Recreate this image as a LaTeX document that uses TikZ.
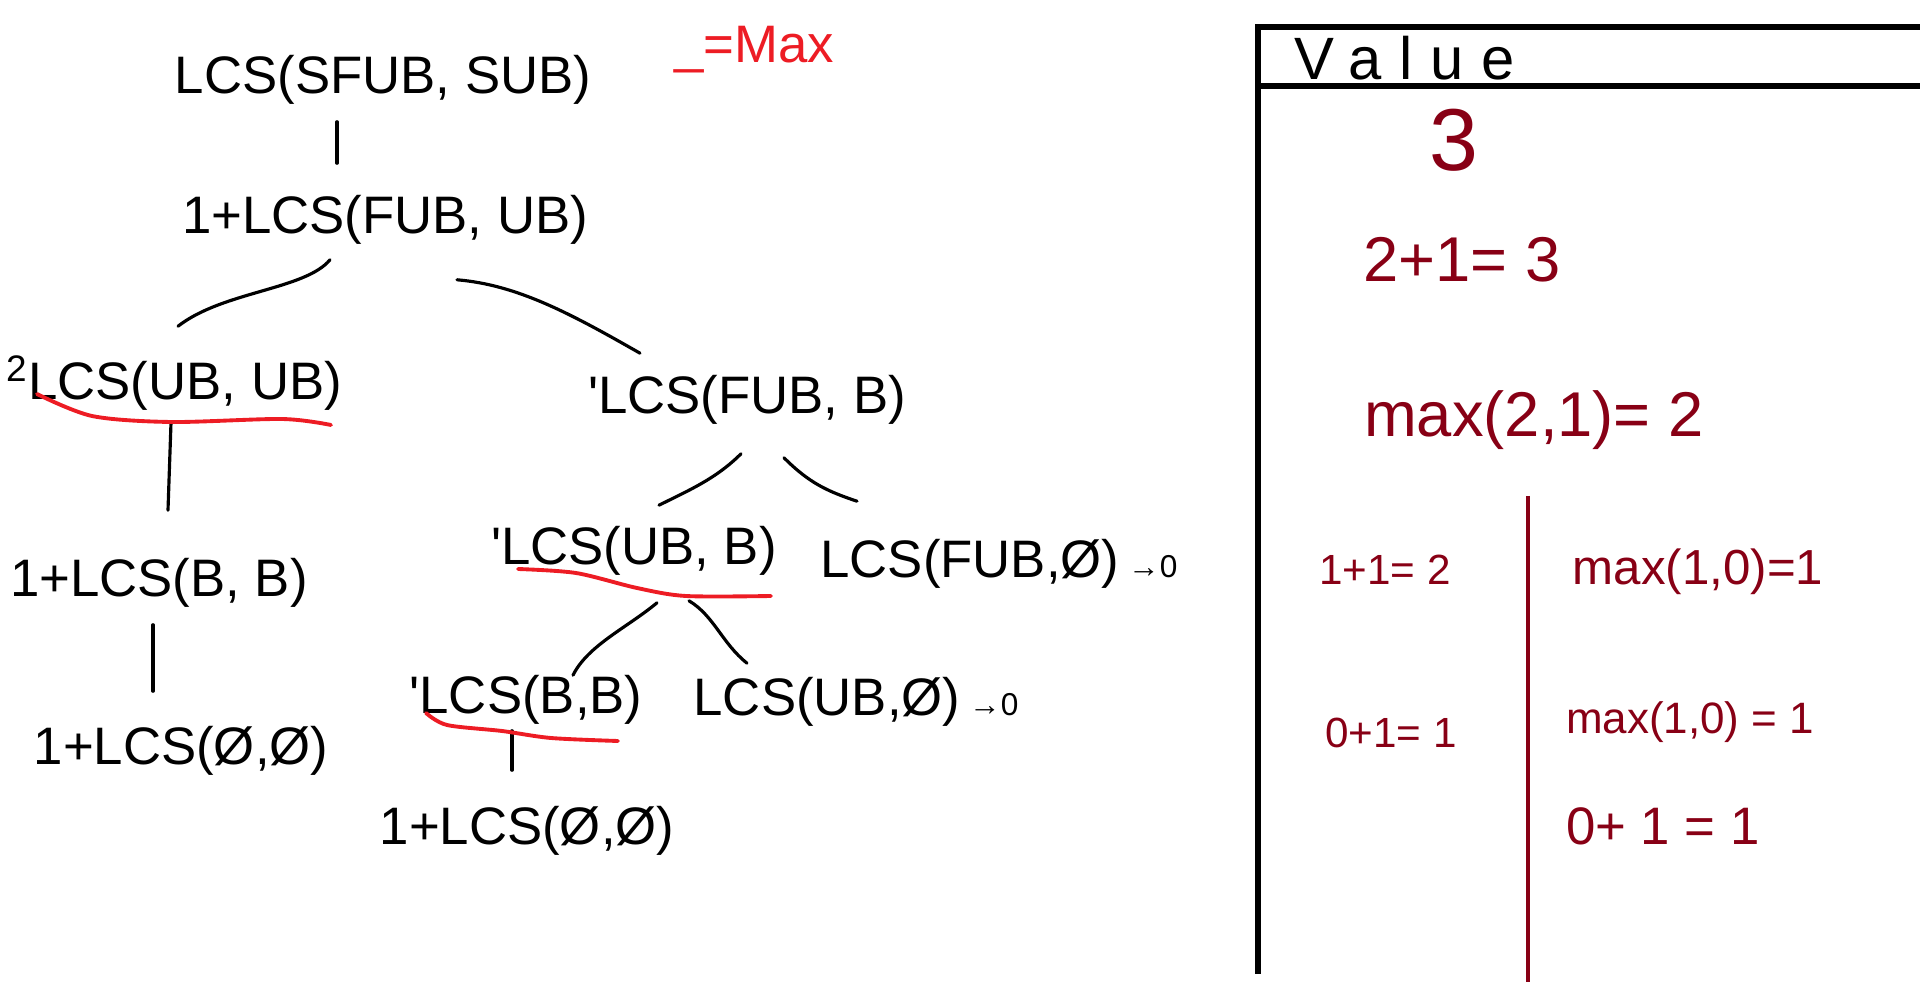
\documentclass[tikz,border=0pt]{standalone}
\usepackage{fontspec}
\setmainfont{Liberation Sans}
\newfontfamily\spaced[LetterSpace=30]{Liberation Sans}
\usetikzlibrary{calc}
\definecolor{penred}{HTML}{ED1C24}
\definecolor{valred}{HTML}{880015}
\tikzstyle{call}=[inner sep=1pt, font=\fontsize{15}{18}\selectfont]
\tikzstyle{val}=[inner sep=1pt, text=valred]
\tikzstyle{edge}=[draw, line width=0.9pt, line cap=round]
\tikzstyle{under}=[draw=penred, line width=1.1pt, line cap=round]
\tikzstyle{panel}=[draw, line width=1.5pt]
\tikzstyle{split}=[draw=valred, line width=1.2pt]
\newcommand{\call}[2]{node (c#1) [call] {#2}}
\newcommand{\val}[3]{node (v#1) [val, font=\fontsize{#2}{#2}\selectfont] {#3}}
\newcommand{\tick}{\textquotesingle}

\begin{document}
\begin{tikzpicture}[x=0.01cm, y=-0.01cm]
\useasboundingbox (0,0) rectangle (1920,994);

% Draw diagram elements
\path (383,80)         \call{1}{LCS(SFUB, SUB)};
\path (c1)+(2,140)     \call{2}{1+LCS(FUB, UB)};
\path (c2)+(-211,163)  \call{3}{\textsuperscript{2}LCS(UB, UB)};
\path (c2)+(362,180)   \call{4}{\tick LCS(FUB, B)};
\path (c3)+(-15,200)   \call{5}{1+LCS(B, B)};
\path (c5)+(22,168)    \call{6}{1+LCS(Ø,Ø)};
\path (c4)+(-113,151)  \call{7}{\tick LCS(UB, B)};
\path (c4)+(252,164)   \call{8}{LCS(FUB,Ø)\,{\small→0}};
\path (c7)+(-108,149)  \call{9}{\tick LCS(B,B)};
\path (c7)+(222,151)   \call{10}{LCS(UB,Ø)\,{\small→0}};
\path (c9)+(1,131)     \call{11}{1+LCS(Ø,Ø)};

% Legend
\path (754,50) node (key) [inner sep=1pt, text=penred,
  font=\fontsize{15}{15}\selectfont] {\_=Max};

% Value table
\path (1405,58) node (head) [inner sep=1pt,
  font=\spaced\fontsize{17}{17}\selectfont] {Value};
\path (1454,140) \val{1}{25}{3};
\path (1462,260) \val{2}{18}{2+1= 3};
\path (1534,420) \val{3}{18}{max(2,1)= 2};
\path (1385,570) \val{4}{12}{1+1= 2};
\path (1698,572) \val{5}{14}{max(1,0)=1};
\path (1391,733) \val{6}{12}{0+1= 1};
\path (1690,722) \val{7}{12.5}{max(1,0) = 1};
\path (1663,826) \val{8}{15}{0+ 1 = 1};

\path [panel] (1920,27) -- (1258,27) -- (1258,974);
\path [panel] (1258,86) -- (1920,86);
\path [split] (1528,496) -- (1528,982);

% Draw edges between calls
\path [edge] ($(c1.south)+(-46,13)$) -- ($(c2.north)+(-48,-28)$);
\path [edge] ($(c2.south)+(-55,11)$) .. controls +(-25,30) and +(45,-35)
  .. ($(c3.north)+(4,-25)$);
\path [edge] ($(c2.south)+(72,31)$) .. controls +(60,5) and +(-70,-40)
  .. ($(c4.north)+(-107,-18)$);
\path [edge] ($(c3.south)+(-3,8)$) -- ($(c5.north)+(9,-44)$);
\path [edge] ($(c5.south)+(-6,13)$) -- ($(c6.north)+(-28,-31)$);
\path [edge] ($(c4.south)+(-6,25)$) .. controls +(-25,25) and +(30,-15)
  .. ($(c7.north)+(25,-17)$);
\path [edge] ($(c4.south)+(37,29)$) .. controls +(25,25) and +(-30,-10)
  .. ($(c8.north)+(-142,-34)$);
\path [edge] ($(c7.south)+(23,23)$) .. controls +(-30,25) and +(15,-30)
  .. ($(c9.north)+(47,4)$);
\path [edge] ($(c7.south)+(55,21)$) .. controls +(25,15) and +(-25,-20)
  .. ($(c10.north)+(-109,-10)$);
\path [edge] ($(c9.south)+(-14,2)$) -- ($(c11.north)+(-15,-32)$);

% Underlined maxima
\path [under] plot[smooth] coordinates
  {(37,394) (92,416) (171,422) (282,419) (331,425)};
\path [under] plot[smooth] coordinates
  {(518,569) (576,573) (637,588) (686,596) (771,596)};
\path [under] plot[smooth] coordinates
  {(426,713) (447,725) (502,731) (551,738) (618,741)};
\end{tikzpicture}
\end{document}
